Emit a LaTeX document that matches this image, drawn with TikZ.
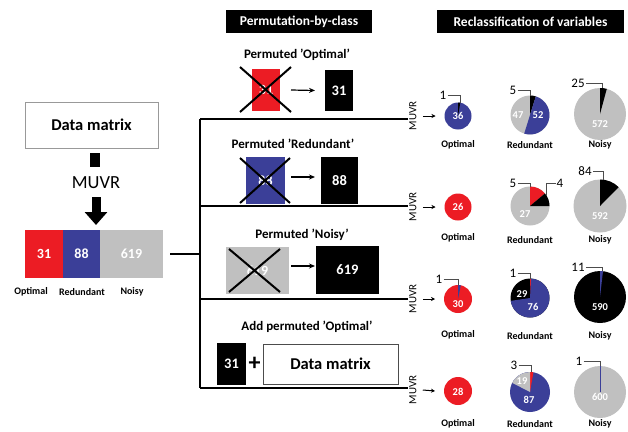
\documentclass[tikz,border=0pt]{standalone}
\usepackage{fontspec}
\setmainfont{Carlito}
\usetikzlibrary{arrows.meta}
\definecolor{cred}{HTML}{EC1C24}
\definecolor{cblue}{HTML}{3B3F98}
\definecolor{cgray}{HTML}{C0C0C0}
\newcommand\fsz[1]{\fontsize{#1}{#1}\selectfont}
% pie segment: centre, radius, start (deg clockwise from top), sweep, colour
\newcommand\pieseg[5]{\fill[#5] (#1) -- ++({-90+#3}:#2) arc[start angle={-90+#3}, delta angle={#4}, radius=#2] -- cycle;}
\begin{document}
\begin{tikzpicture}[x=1pt,y=-1pt,
  box/.style={inner sep=0pt, outer sep=0pt},
  blk/.style={box, fill=black, text=white, font=\bfseries\fsz{14.5}},
  barpart/.style={box, text=white, font=\bfseries\fsz{14}, minimum height=48pt},
  ttl/.style={box, fill=black, text=white, font=\bfseries\fsz{13.5}, minimum height=23pt},
  head/.style={font=\bfseries\fsz{13}},
  matrixbox/.style={box, draw=gray!80, line width=0.8pt, font=\bfseries\fsz{16.5}},
  xline/.style={line width=2pt, black},
  trunk/.style={line width=1.5pt},
  midarrow/.style={line width=1.2pt, -{Stealth[length=6pt,width=5pt]}},
  smallarrow/.style={line width=1pt, -{Stealth[length=4pt,width=4pt]}},
  cls/.style={font=\bfseries\fsz{10}},
  pienum/.style={text=white, font=\bfseries\fsz{10.5}, inner sep=0pt},
  leadnum/.style={font=\fsz{13}, inner sep=1pt},
  leader/.style={draw=gray!60!black, line width=0.7pt},
  muvr/.style={rotate=90, font=\fsz{11}, inner sep=1pt},
  pie/.style={circle, inner sep=0pt, outer sep=0pt},
]
\useasboundingbox (0,0) rectangle (628,431);
\fill[white] (0,0) rectangle (628,431);

% ---------- left: data matrix, MUVR, classes ----------
\node[matrixbox, minimum width=133pt, minimum height=46pt] (dm) at (91.5,125) {Data matrix};
\node[box, fill=black, minimum width=10pt, minimum height=14pt] (stub) at (95,160) {};
\node[font=\fsz{18.5}, inner sep=1pt] (muvrmain) at (96,183) {MUVR};
\node[barpart, fill=cred, minimum width=38pt] (r31) at (44,254) {31};
\node[barpart, fill=cblue, minimum width=37pt] (b88) at (81.5,254) {88};
\node[barpart, fill=cgray, minimum width=63pt] (g619) at (131.5,254) {619};
\coordinate (bigtip) at (96,225);
\draw[line width=9pt, -{Triangle[width=22pt,length=13pt]}] (96,197) -- (bigtip);
\node[cls] (lo) at (31,292) {Optimal};
\node[cls] (lr) at (82,292) {Redundant};
\node[cls] (ln) at (132,292) {Noisy};

% ---------- branching ----------
\coordinate (tr1) at (200,119);
\coordinate (tr2) at (200,206);
\coordinate (tr3) at (200,299);
\coordinate (tr4) at (200,388);
\coordinate (tr0) at (200,254);
\draw[trunk] ([xshift=7pt]g619.east) -- (tr0);
\draw[trunk] (tr1) -- (tr4);

% ---------- titles ----------
\node[ttl, minimum width=146pt] (t1) at (299,21.5) {Permutation-by-class};
\node[ttl, minimum width=187pt] (t2) at (530.5,21.5) {Reclassification of variables};

% ---------- permuted 'Optimal' ----------
\node[head] (h1) at (297,55) {Permuted ’Optimal’};
\node[box, fill=cred, text=white, font=\bfseries\fsz{14}, minimum width=28pt, minimum height=42pt] (ra) at (266,90) {31};
\draw[xline] (240,67) -- (291,112) (291,67) -- (240,112);
\node[blk, minimum width=28pt, minimum height=41pt] (ka) at (339,90.5) {31};
\draw[midarrow] ([xshift=11pt]ra.east) -- ([xshift=-10pt]ka.west);

% ---------- permuted 'Redundant' ----------
\node[head] (h2) at (293,144) {Permuted ’Redundant’};
\node[box, fill=cblue, text=white, font=\bfseries\fsz{14}, minimum width=39pt, minimum height=47pt] (rb) at (265.5,180.5) {88};
\draw[xline] (240,158) -- (290,203) (290,158) -- (240,203);
\node[blk, minimum width=37pt, minimum height=47pt] (kb) at (339.5,180.5) {88};
\coordinate (ab1) at (291,177);
\coordinate (ab2) at (315,177);
\draw[midarrow] (ab1) -- (ab2);

% ---------- permuted 'Noisy' ----------
\node[head] (h3) at (302,235) {Permuted ’Noisy’};
\node[box, fill=cgray, text=white, font=\bfseries\fsz{14}, minimum width=63pt, minimum height=47pt] (rc) at (257.5,270.5) {619};
\draw[xline] (229,249) -- (280,292) (280,249) -- (229,292);
\node[blk, minimum width=63pt, minimum height=48pt] (kc) at (347.5,270) {619};
\coordinate (ac1) at (291,266);
\coordinate (ac2) at (315,266);
\draw[midarrow] (ac1) -- (ac2);

% ---------- add permuted 'Optimal' ----------
\node[head] (h4) at (307,327) {Add permuted ’Optimal’};
\node[blk, minimum width=29pt, minimum height=42pt] (kd) at (231.5,364) {31};
\node[font=\bfseries\fsz{24}, inner sep=0pt] (plus) at (254.5,364) {+};
\node[matrixbox, draw=gray!60!black, minimum width=135pt, minimum height=40pt] (dm2) at (330.5,364) {Data matrix};

% ---------- MUVR runs ----------
\node[muvr] (mv1) at (413,116) {MUVR};
\node[muvr] (mv2) at (413,207) {MUVR};
\node[muvr] (mv3) at (413,299) {MUVR};
\node[muvr] (mv4) at (413,390) {MUVR};
\draw[trunk] (tr1) -- (tr1 -| mv1.north);
\draw[trunk] (tr2) -- (tr2 -| mv2.north);
\draw[trunk] (tr3) -- (tr3 -| mv3.north);
\draw[trunk] (tr4) -- (tr4 -| mv4.north);

% ---------- pies ----------
% row 1
\node[pie, fill=cblue, minimum size=27pt] (p11) at (458,116) {};
\pieseg{p11.center}{13.5}{0}{9.7}{black}
\node[pie, fill=cgray, minimum size=39pt] (p12) at (530,115) {};
\pieseg{p12.center}{19.5}{0}{17.3}{black}
\pieseg{p12.center}{19.5}{17.3}{180}{cblue}
\node[pie, fill=cgray, minimum size=52pt] (p13) at (600,114) {};
\pieseg{p13.center}{26}{0}{15.1}{black}
% row 2
\node[pie, fill=cred, minimum size=27pt] (p21) at (458,207) {};
\node[pie, fill=cgray, minimum size=39pt] (p22) at (530,206) {};
\pieseg{p22.center}{19.5}{0}{50}{cred}
\pieseg{p22.center}{19.5}{50}{40}{black}
\node[pie, fill=cgray, minimum size=53pt] (p23) at (600,206) {};
\pieseg{p23.center}{26.5}{0}{44.7}{black}
% row 3
\node[pie, fill=cred, minimum size=28pt] (p31) at (458,299) {};
\pieseg{p31.center}{14}{0}{11.6}{cblue}
\node[pie, fill=black, minimum size=39pt] (p32) at (530,298) {};
\pieseg{p32.center}{19.5}{0}{3.4}{cred}
\pieseg{p32.center}{19.5}{3.4}{258.1}{cblue}
\node[pie, fill=black, minimum size=52pt] (p33) at (600,297) {};
\pieseg{p33.center}{26}{0}{6.6}{cblue}
% row 4
\node[pie, fill=cred, minimum size=28pt] (p41) at (458,391) {};
\node[pie, fill=cblue, minimum size=40pt] (p42) at (530,392) {};
\pieseg{p42.center}{20}{0}{9.9}{cred}
\pieseg{p42.center}{20}{297.2}{62.8}{cgray}
\node[pie, fill=cgray, minimum size=52pt] (p43) at (600,392) {};
\draw[cblue, line width=0.8pt] (p43.center) -- (p43.north);

\draw[smallarrow] ([xshift=5pt]mv1.south) -- ([xshift=-9pt]p11.west);
\draw[smallarrow] ([xshift=5pt]mv2.south) -- ([xshift=-9pt]p21.west);
\draw[smallarrow] ([xshift=5pt]mv3.south) -- ([xshift=-9pt]p31.west);
\draw[smallarrow] ([xshift=5pt]mv4.south) -- ([xshift=-9pt]p41.west);

% numbers inside the pies
\node[pienum] (n11) at (458,116) {36};
\node[pienum] (n12a) at (518,115) {47};
\node[pienum] (n12b) at (538,115) {52};
\node[pienum] (n13) at (600,124) {572};
\node[pienum] (n21) at (458,207) {26};
\node[pienum] (n22) at (525,214) {27};
\node[pienum] (n23) at (600,216) {592};
\node[pienum] (n31) at (458,304) {30};
\node[pienum] (n32a) at (522,294) {29};
\node[pienum] (n32b) at (533,307) {76};
\node[pienum] (n33) at (600,307) {590};
\node[pienum] (n41) at (458,392) {28};
\node[pienum] (n42a) at (522,381) {19};
\node[pienum] (n42b) at (529,400) {87};
\node[pienum] (n43) at (600,397) {600};

% leader labels
\node[leadnum] (l11) at (443,95) {1};
\draw[leader] (l11.east) -| ([xshift=2pt]p11.north);
\node[leadnum] (l12) at (513,90) {5};
\draw[leader] (l12.east) -| (p12.north);
\node[leadnum] (l13) at (578,83) {25};
\draw[leader] (l13.east) -| ([xshift=2pt]p13.north);
\node[leadnum] (l22a) at (513,183) {5};
\draw[leader] (l22a.east) -| (p22.north);
\node[leadnum] (l22b) at (560,183) {4};
\draw[leader] (l22b.west) -| ([shift={(16,-10)}]p22.center);
\node[leadnum] (l23) at (585,171) {84};
\draw[leader] (l23.east) -| ([xshift=3pt]p23.north);
\node[leadnum] (l31) at (439,279) {1};
\draw[leader] (l31.east) -| (p31.north);
\node[leadnum] (l32) at (513,273) {1};
\draw[leader] (l32.east) -| (p32.north);
\node[leadnum] (l33) at (578,267) {11};
\draw[leader] (l33.east) -| ([xshift=2pt]p33.north);
\node[leadnum] (l42) at (514,365) {3};
\draw[leader] (l42.east) -| ([xshift=1pt]p42.north);
\node[leadnum] (l43) at (579,361) {1};
\draw[leader] (l43.east) -| (p43.north);

% class labels under the pies
\node[cls] (c11) at (458,145) {Optimal};
\node[cls] (c12) at (530,145) {Redundant};
\node[cls] (c13) at (600,145) {Noisy};
\node[cls] (c21) at (458,238) {Optimal};
\node[cls] (c22) at (530,240) {Redundant};
\node[cls] (c23) at (600,240) {Noisy};
\node[cls] (c31) at (458,335) {Optimal};
\node[cls] (c32) at (530,336) {Redundant};
\node[cls] (c33) at (600,336) {Noisy};
\node[cls] (c41) at (458,424) {Optimal};
\node[cls] (c42) at (530,424) {Redundant};
\node[cls] (c43) at (600,424) {Noisy};
\end{tikzpicture}
\end{document}
